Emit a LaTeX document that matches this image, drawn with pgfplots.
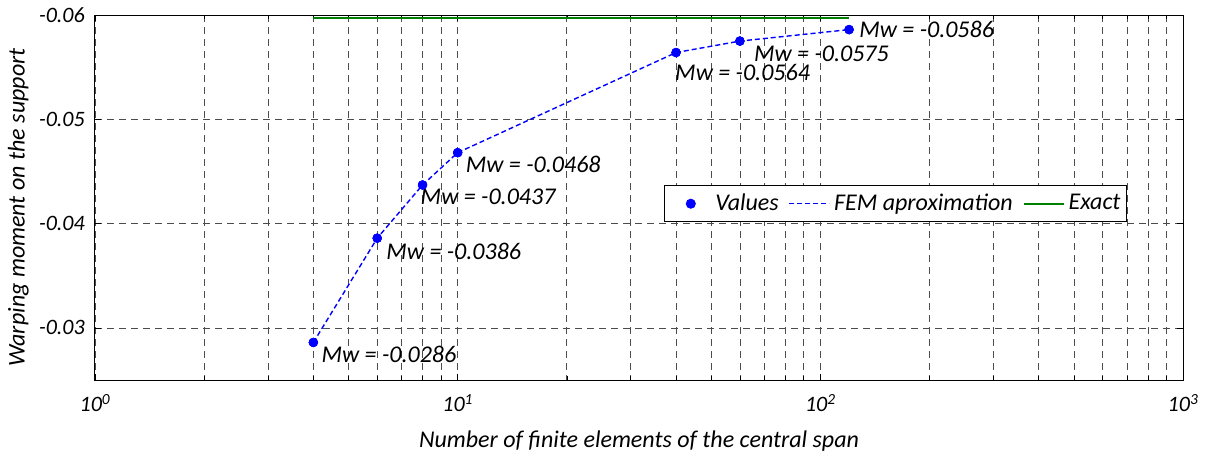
\documentclass[border=0pt]{standalone}
\usepackage{pgfplots}
\pgfplotsset{compat=1.18}
\usepackage{fontspec}
\setmainfont{Carlito}
\newcommand{\cf}{\fontsize{24bp}{28bp}\selectfont\itshape}
\newcommand{\tf}{\fontsize{22bp}{26bp}\selectfont\itshape}
\colorlet{exactgreen}{green!50!black}
\begin{document}
\cf
\begin{tikzpicture}
\useasboundingbox (-95bp,-79bp) rectangle (1120bp,380bp);
\begin{axis}[
  at={(0,0)}, anchor=south west,
  scale only axis, width=1088bp, height=365bp,
  xmode=log, xmin=1, xmax=1000,
  ymin=-0.06, ymax=-0.025, y dir=reverse,
  scaled y ticks=false,
  ytick={-0.06,-0.05,-0.04,-0.03},
  yticklabels={-0.06,-0.05,-0.04,-0.03},
  xtick={1,10,100,1000},
  xticklabels={10\textsuperscript{0},10\textsuperscript{1},10\textsuperscript{2},10\textsuperscript{3}},
  minor xtick={2,3,4,5,6,7,8,9,20,30,40,50,60,70,80,90,200,300,400,500,600,700,800,900},
  grid=both,
  major grid style={dash pattern=on 7bp off 5bp, black!70, line width=0.7bp},
  minor grid style={dash pattern=on 7bp off 5bp, black!70, line width=0.7bp},
  axis line style={black, line width=1bp},
  tick style={black, line width=0.6bp},
  major tick length=6bp, minor tick length=4bp,
  tick align=inside,
  tick label style={font=\tf, black},
  xticklabel style={yshift=-6bp},
  yticklabel style={xshift=-2bp},
  xlabel={Number of finite elements of the central span},
  ylabel={Warping moment on the support},
  label style={font=\cf},
  xlabel style={yshift=-3bp},
  ylabel style={yshift=-6bp, xshift=-10bp},
  clip=false,
  legend style={at={(0.9485,0.534)}, anchor=north east, legend columns=3,
    font=\cf, inner xsep=4bp, inner ysep=6bp, line width=1bp,
    /tikz/every odd column/.append style={column sep=2bp},
    /tikz/every even column/.append style={column sep=8bp}},
  legend cell align=left,
]
\addplot[only marks, mark=*, blue, mark size=4.5bp,
  legend image code/.code={\fill[blue] (22bp,0bp) circle (4.5bp);\path (0bp,0bp) (42bp,0bp);}]
  coordinates {(4,-0.0286)(6,-0.0386)(8,-0.0437)(10,-0.0468)(40,-0.0564)(60,-0.0575)(120,-0.0586)};
\addlegendentry{Values}
\addplot[blue, line width=1.4bp, dash pattern=on 5bp off 3bp,
  legend image code/.code={\draw[blue, line width=1.4bp, dash pattern=on 5bp off 3bp] (0bp,0bp) -- (40bp,0bp);}]
  coordinates {(4,-0.0286)(6,-0.0386)(8,-0.0437)(10,-0.0468)(40,-0.0564)(60,-0.0575)(120,-0.0586)};
\addlegendentry{FEM aproximation}
\addplot[exactgreen, line width=1.8bp,
  legend image code/.code={\draw[exactgreen, line width=1.8bp] (0bp,0bp) -- (40bp,0bp);}]
  coordinates {(4,-0.0597)(120,-0.0597)};
\addlegendentry{Exact}
\addplot[only marks, mark=*, blue, mark size=4.5bp, forget plot]
  coordinates {(4,-0.0286)(6,-0.0386)(8,-0.0437)(10,-0.0468)(40,-0.0564)(60,-0.0575)(120,-0.0586)};
\node[anchor=west, inner sep=0pt, font=\cf, xshift=8bp, yshift=-12bp] at (axis cs:4,-0.0286) {Mw = -0.0286};
\node[anchor=west, inner sep=0pt, font=\cf, xshift=9bp, yshift=-13bp] at (axis cs:6,-0.0386) {Mw = -0.0386};
\node[anchor=west, inner sep=0pt, font=\cf, xshift=-2bp, yshift=-12bp] at (axis cs:8,-0.0437) {Mw = -0.0437};
\node[anchor=west, inner sep=0pt, font=\cf, xshift=8bp, yshift=-12bp] at (axis cs:10,-0.0468) {Mw = -0.0468};
\node[anchor=west, inner sep=0pt, font=\cf, xshift=-1bp, yshift=-20bp] at (axis cs:40,-0.0564) {Mw = -0.0564};
\node[anchor=west, inner sep=0pt, font=\cf, xshift=14bp, yshift=-13bp] at (axis cs:60,-0.0575) {Mw = -0.0575};
\node[anchor=west, inner sep=0pt, font=\cf, xshift=10bp, yshift=0bp] at (axis cs:120,-0.0586) {Mw = -0.0586};
\end{axis}
\end{tikzpicture}
\end{document}
